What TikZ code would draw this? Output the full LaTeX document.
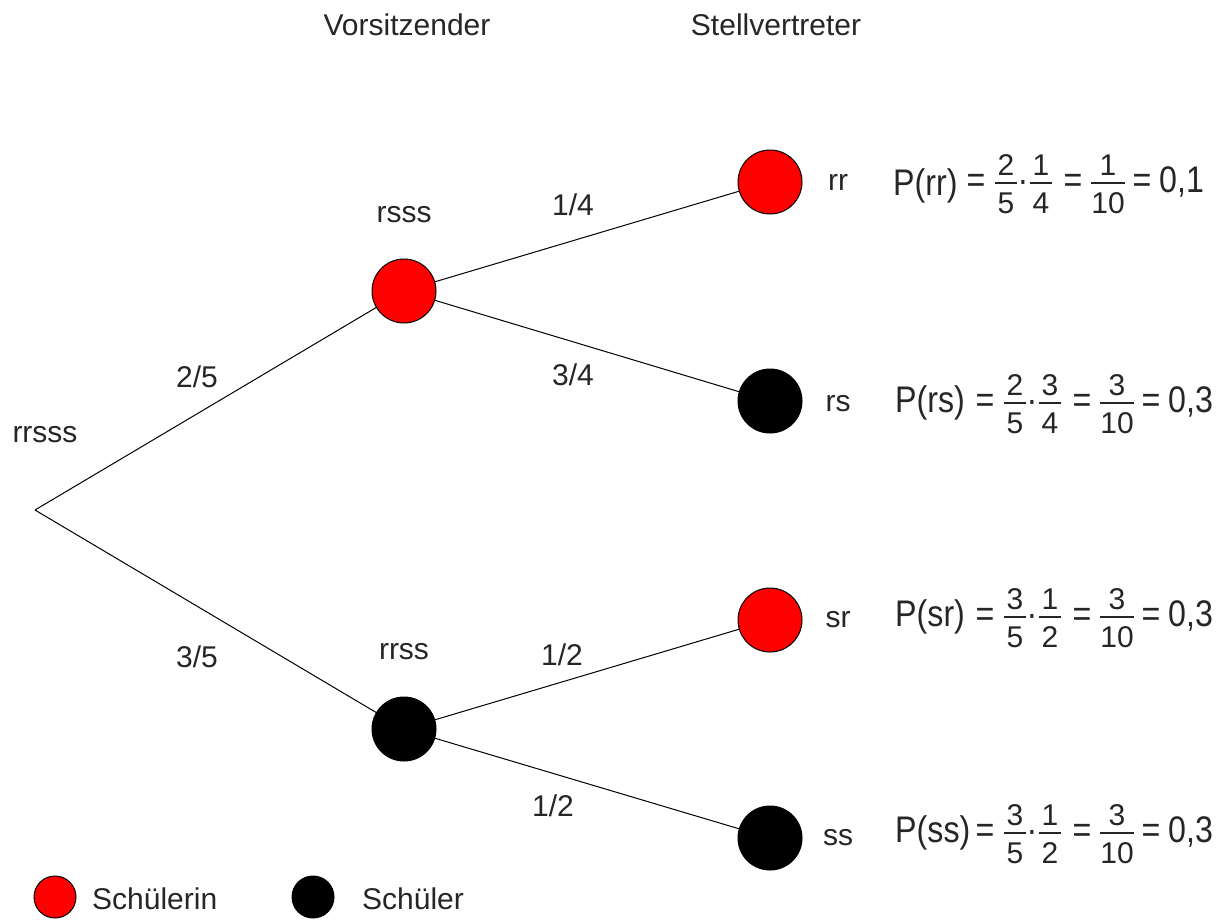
\documentclass[tikz,border=0pt]{standalone}
\usepackage{fontspec}
\setmainfont{Liberation Sans}
\newfontfamily\formfont[FakeStretch=0.87]{Liberation Sans}
\tikzset{
  ball/.style={circle, draw=black, line width=1pt, minimum size=64pt, inner sep=0pt},
  redball/.style={ball, fill=red},
  blackball/.style={ball, fill=black},
  smallball/.style={circle, draw=black, line width=1pt, minimum size=42pt, inner sep=0pt},
  lbl/.style={text=black!85, font=\fontsize{30}{34}\selectfont, inner sep=0pt},
  ftext/.style={text=black!85, font=\formfont\fontsize{37}{40}\selectfont, inner sep=0pt, anchor=base},
  fnum/.style={text=black!85, font=\fontsize{30}{32}\selectfont, inner sep=0pt, anchor=base},
  fline/.style={line width=1.1pt, black!85},
  edge/.style={line width=1pt, black}
}
% #1 name, #2 fraction-line y, #3 n1, #4 d1, #5 n2, #6 d2, #7 n3, #8 result
\newcommand\probrow[8]{%
  \node[ftext] (#1q1) at (985,#2+9) {=};
  \node[fnum] (#1a) at (1015,#2-8) {#3};
  \node[fnum] (#1b) at (1015,#2+30) {#4};
  \draw[fline] (1004,#2) -- (1026,#2);
  \node[ftext] (#1dot) at (1032,#2+9) {·};
  \node[fnum] (#1c) at (1050,#2-8) {#5};
  \node[fnum] (#1d) at (1050,#2+30) {#6};
  \draw[fline] (1039,#2) -- (1061,#2);
  \node[ftext] (#1q2) at (1082,#2+9) {=};
  \node[fnum] (#1e) at (1117,#2-8) {#7};
  \node[fnum] (#1f) at (1117,#2+30) {10};
  \draw[fline] (1100,#2) -- (1134,#2);
  \node[ftext] (#1q3) at (1151,#2+9) {=};
  \node[ftext, anchor=base west] (#1r) at (1168,#2+9) {#8};
}
\begin{document}
\begin{tikzpicture}[x=1pt,y=-1pt]
\useasboundingbox (0,0) rectangle (1230,922);
\fill[white] (0,0) rectangle (1230,922);
% headers
\node[lbl] (h1) at (407,25) {Vorsitzender};
\node[lbl] (h2) at (776,25) {Stellvertreter};
% nodes
\coordinate (root) at (35,510);
\node[redball] (a) at (404,291) {};
\node[blackball] (b) at (404,729) {};
\node[redball] (rr) at (770,182) {};
\node[blackball] (rs) at (770,401) {};
\node[redball] (sr) at (770,620) {};
\node[blackball] (ss) at (770,838) {};
% edges
\draw[edge] (root) -- (a);
\draw[edge] (root) -- (b);
\draw[edge] (a) -- (rr);
\draw[edge] (a) -- (rs);
\draw[edge] (b) -- (sr);
\draw[edge] (b) -- (ss);
% labels
\node[lbl] (l0) at (45,435) {rrsss};
\node[lbl] (l1) at (404,215) {rsss};
\node[lbl] (l2) at (404,652) {rrss};
\node[lbl] (p1) at (197,377) {2/5};
\node[lbl] (p2) at (197,657) {3/5};
\node[lbl] (p3) at (573,205) {1/4};
\node[lbl] (p4) at (573,375) {3/4};
\node[lbl] (p5) at (562,655) {1/2};
\node[lbl] (p6) at (553,806) {1/2};
\node[lbl] (e1) at (838,182) {rr};
\node[lbl] (e2) at (838,404) {rs};
\node[lbl] (e3) at (838,620) {sr};
\node[lbl] (e4) at (838,838) {ss};
% formulas
\node[ftext, anchor=base west] (f1p) at (893,195) {P(rr)};
\begin{scope}[xshift=-9pt]
\probrow{f1}{183}{2}{5}{1}{4}{1}{0,1}
\end{scope}
\node[ftext, anchor=base west] (f2p) at (895,412) {P(rs)};
\probrow{f2}{403}{2}{5}{3}{4}{3}{0,3}
\node[ftext, anchor=base west] (f3p) at (895,626) {P(sr)};
\probrow{f3}{617}{3}{5}{1}{2}{3}{0,3}
\node[ftext, anchor=base west] (f4p) at (895,842) {P(ss)};
\probrow{f4}{833}{3}{5}{1}{2}{3}{0,3}
% legend
\node[smallball, fill=red] (lr) at (55,897) {};
\node[lbl, anchor=west] (lrt) at (92,899) {Schülerin};
\node[smallball, fill=black] (lb) at (313,897) {};
\node[lbl, anchor=west] (lbt) at (362,899) {Schüler};
\end{tikzpicture}
\end{document}
